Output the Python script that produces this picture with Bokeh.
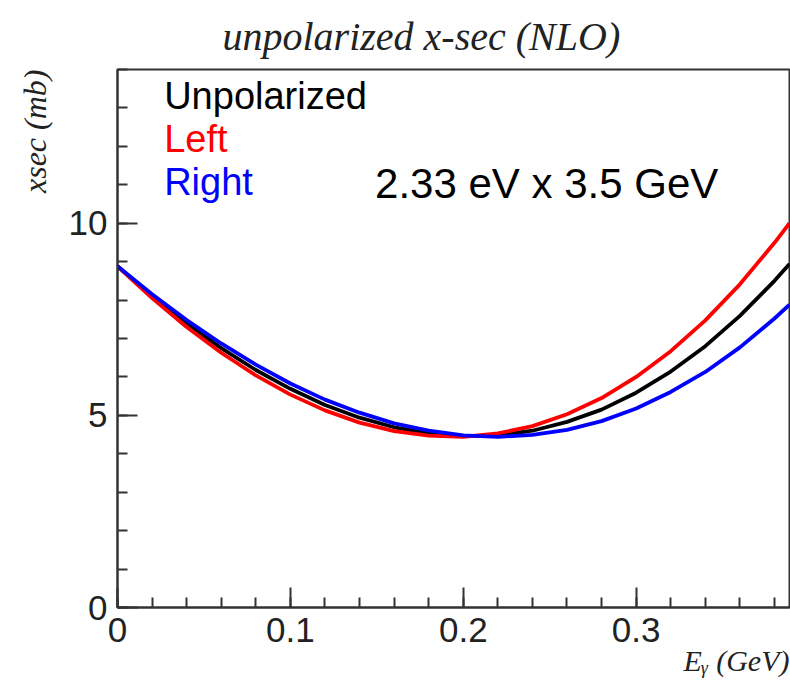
from bokeh.plotting import figure
from bokeh.models import Range1d, SingleIntervalTicker, NumeralTickFormatter, Label, Title
from bokeh.embed import file_html
from bokeh.resources import INLINE

# ---- data ----
e_gamma = [0.0, 0.02, 0.04, 0.06, 0.08, 0.10, 0.12, 0.14, 0.16, 0.18, 0.20,
           0.22, 0.24, 0.26, 0.28, 0.30, 0.32, 0.34, 0.36, 0.38, 0.3887]
xsec_unpol = [8.88, 8.10, 7.39, 6.75, 6.18, 5.69, 5.27, 4.94, 4.69, 4.53, 4.46,
              4.48, 4.60, 4.83, 5.15, 5.59, 6.14, 6.80, 7.59, 8.50, 8.94]
xsec_left = [8.88, 8.05, 7.30, 6.63, 6.04, 5.54, 5.13, 4.81, 4.59, 4.47, 4.44,
             4.53, 4.72, 5.03, 5.45, 6.00, 6.67, 7.47, 8.41, 9.49, 10.00]
xsec_right = [8.88, 8.15, 7.48, 6.87, 6.32, 5.83, 5.41, 5.07, 4.79, 4.60, 4.48,
              4.44, 4.49, 4.62, 4.85, 5.18, 5.61, 6.13, 6.77, 7.52, 7.88]
series_names = ["Unpolarized", "Left", "Right"]
series_colors = ["black", "#ff0000", "#0000ff"]
x_max = 0.3887
y_max = 14.0

p = figure(width=790, height=686, output_backend="svg", toolbar_location=None,
           x_range=Range1d(0, x_max), y_range=Range1d(0, y_max),
           min_border_left=117, min_border_right=1, min_border_top=69,
           min_border_bottom=79)
p.grid.visible = False
p.outline_line_color = "#333333"
p.outline_line_width = 2
p.background_fill_color = "white"
p.border_fill_color = "white"


def tight(t, lh):
    if "text_line_height" in t.properties():
        t.text_line_height = lh


# title
p.title.text = "unpolarized x-sec (NLO)"
p.title.align = "left"
p.title.offset = 105
p.title.standoff = 22
p.title.text_font = "Liberation Serif"
p.title.text_font_style = "italic"
p.title.text_font_size = "40px"
p.title.text_color = "#222222"
tight(p.title, 0.9)

for ax in (p.xaxis[0], p.yaxis[0]):
    ax.axis_line_color = "#333333"
    ax.axis_line_width = 2
    ax.major_tick_line_color = "#333333"
    ax.minor_tick_line_color = "#333333"
    ax.major_tick_line_width = 2
    ax.minor_tick_line_width = 2
    ax.major_tick_in = 20
    ax.major_tick_out = 0
    ax.minor_tick_in = 10
    ax.minor_tick_out = 0
    ax.major_label_text_font = "Liberation Sans"
    ax.major_label_text_font_size = "35px"
    ax.major_label_text_color = "#222222"
    ax.major_label_standoff = 10

p.xaxis.ticker = SingleIntervalTicker(interval=0.1, num_minor_ticks=5)
p.yaxis.ticker = SingleIntervalTicker(interval=5, num_minor_ticks=5)
p.xaxis.formatter = NumeralTickFormatter(format="0.[0]")

for ys, col in zip([xsec_unpol, xsec_left, xsec_right], series_colors):
    p.line(e_gamma, ys, line_color=col, line_width=3.8)

# legend (text only, ROOT style)
leg_y = [13.30, 12.18, 11.06]
for name, col, yy in zip(series_names, series_colors, leg_y):
    p.add_layout(Label(x=0.027, y=yy, text=name, text_color=col,
                       text_font="Liberation Sans", text_font_size="38px",
                       text_baseline="alphabetic"))

p.add_layout(Label(x=0.149, y=11.04, text="2.33 eV x 3.5 GeV", text_color="black",
                   text_font="Liberation Sans", text_font_size="42px",
                   text_baseline="alphabetic"))

# axis titles (ROOT style: aligned to axis end)
ytitle = Title(text="xsec (mb)", align="right", standoff=26,
               text_font="Liberation Serif", text_font_style="italic",
               text_font_size="32px", text_color="#222222")
tight(ytitle, 0.9)
p.add_layout(ytitle, "left")
p.add_layout(Title(text="E\u1d67 (GeV)", align="right", standoff=-6,
                   text_font="Liberation Serif", text_font_style="italic",
                   text_font_size="30px", text_color="#222222"), "below")

open("out.html", "w").write(file_html(p, INLINE))
